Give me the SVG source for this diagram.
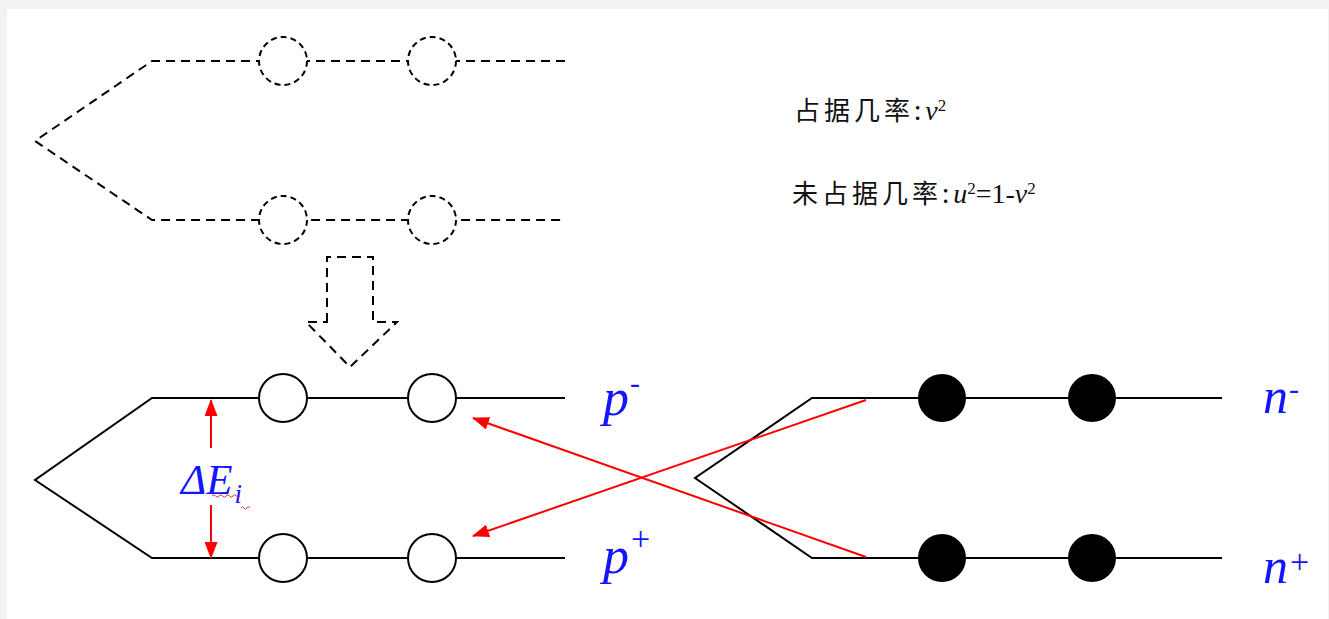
<svg xmlns="http://www.w3.org/2000/svg" width="1329" height="619" viewBox="0 0 1329 619">
  <style>
    .lvl { fill: none; stroke: #000; stroke-width: 2; }
    .dash { stroke-dasharray: 9 6; }
    .hole { fill: #fff; stroke: #000; stroke-width: 2; }
    .hole-d { fill: #fff; stroke: #000; stroke-width: 2; stroke-dasharray: 6 4; }
    .pair { fill: #000; }
    .red { fill: none; stroke: #ff0000; stroke-width: 2; }
    .wave { fill: none; stroke: #e03030; stroke-width: 1; }
    .lbl { font-family: "Liberation Serif", serif; font-style: italic; fill: #1414ff; }
    .cn { font-family: "Noto Sans CJK SC", serif; font-size: 26px; fill: #111; letter-spacing: 4px; }
    .m { font-family: "Liberation Serif", serif; font-size: 28px; fill: #111; }
    .sup { font-family: "Liberation Serif", serif; font-size: 17px; fill: #111; }
  </style>
  <defs>
    <marker id="head" viewBox="0 0 17 13" refX="16" refY="6.5" markerWidth="17" markerHeight="13" markerUnits="userSpaceOnUse" orient="auto">
      <path d="M0,0 L17,6.5 L0,13 Z" fill="#ff0000"/>
    </marker>
  </defs>

  <!-- page frame -->
  <rect x="0" y="0" width="1329" height="619" fill="#f2f2f2"/>
  <rect x="7" y="9" width="1321" height="610" fill="#fff"/>

  <!-- unfilled quasiparticle levels (before) -->
  <g id="levels-before">
    <path class="lvl dash" d="M565,61 H152 L35,141 L152,220 H565"/>
    <circle class="hole-d" cx="283" cy="61" r="24"/>
    <circle class="hole-d" cx="432" cy="61" r="24"/>
    <circle class="hole-d" cx="283" cy="220" r="24"/>
    <circle class="hole-d" cx="432" cy="220" r="24"/>
  </g>

  <!-- hollow down arrow -->
  <g id="down-arrow">
    <path class="lvl" stroke-dasharray="9 6" d="M327,322 V257 H373 V322 H397 L350,367 L306,322 Z"/>
  </g>

  <!-- proton levels -->
  <g id="proton-levels">
    <path class="lvl" d="M565,398 H152 L35,480 L152,558 H565"/>
    <circle class="hole" cx="283" cy="398" r="24"/>
    <circle class="hole" cx="432" cy="398" r="24"/>
    <circle class="hole" cx="283" cy="558" r="24"/>
    <circle class="hole" cx="432" cy="558" r="24"/>
  </g>

  <!-- neutron levels -->
  <g id="neutron-levels">
    <path class="lvl" d="M1222,398 H812 L695,478 L812,558 H1222"/>
    <circle class="pair" cx="942" cy="398" r="24"/>
    <circle class="pair" cx="1092" cy="398" r="24"/>
    <circle class="pair" cx="942" cy="558" r="24"/>
    <circle class="pair" cx="1092" cy="558" r="24"/>
  </g>

  <!-- gap Delta E_i -->
  <g id="gap">
    <line class="red" x1="211" y1="448" x2="211" y2="400" marker-end="url(#head)"/>
    <line class="red" x1="211" y1="505" x2="211" y2="558" marker-end="url(#head)"/>
    <text class="lbl" x="181" y="494" font-size="43">ΔE<tspan font-size="27" dy="9" dx="2">i</tspan></text>
    <path class="wave" d="M212,496 q1.75,-2.5 3.5,0 t3.5,0 t3.5,0 t3.5,0 t3.5,0 t3.5,0 t3.5,0 t3.5,0"/>
    <path class="wave" d="M241,508 q1.5,-2.5 3,0 t3,0 t3,0"/>
  </g>

  <!-- transitions -->
  <g id="connectors">
    <line class="red" x1="866" y1="400" x2="473" y2="536" marker-end="url(#head)"/>
    <line class="red" x1="866" y1="557" x2="473" y2="418" marker-end="url(#head)"/>
  </g>

  <!-- level labels -->
  <g id="labels">
    <text class="lbl" x="603" y="415" font-size="52">p<tspan font-size="30" dy="-22" dx="1">-</tspan></text>
    <text class="lbl" x="603" y="573" font-size="52">p<tspan font-size="34" dy="-23" dx="2" font-style="normal">+</tspan></text>
    <text class="lbl" x="1263" y="413" font-size="50">n<tspan font-size="30" dy="-14" dx="1">-</tspan></text>
    <text class="lbl" x="1263" y="583" font-size="50">n<tspan font-size="34" dy="-10" dx="2" font-style="normal">+</tspan></text>
  </g>

  <!-- occupation probabilities -->
  <g id="probabilities">
    <text x="794" y="120"><tspan class="cn">占据几率:</tspan><tspan class="m" font-style="italic">v</tspan><tspan class="sup" dy="-9">2</tspan></text>
    <text x="792" y="203"><tspan class="cn">未占据几率:</tspan><tspan class="m" font-style="italic">u</tspan><tspan class="sup" dy="-9">2</tspan><tspan class="m" dy="9">=1-</tspan><tspan class="m" font-style="italic">v</tspan><tspan class="sup" dy="-9">2</tspan></text>
  </g>
</svg>
